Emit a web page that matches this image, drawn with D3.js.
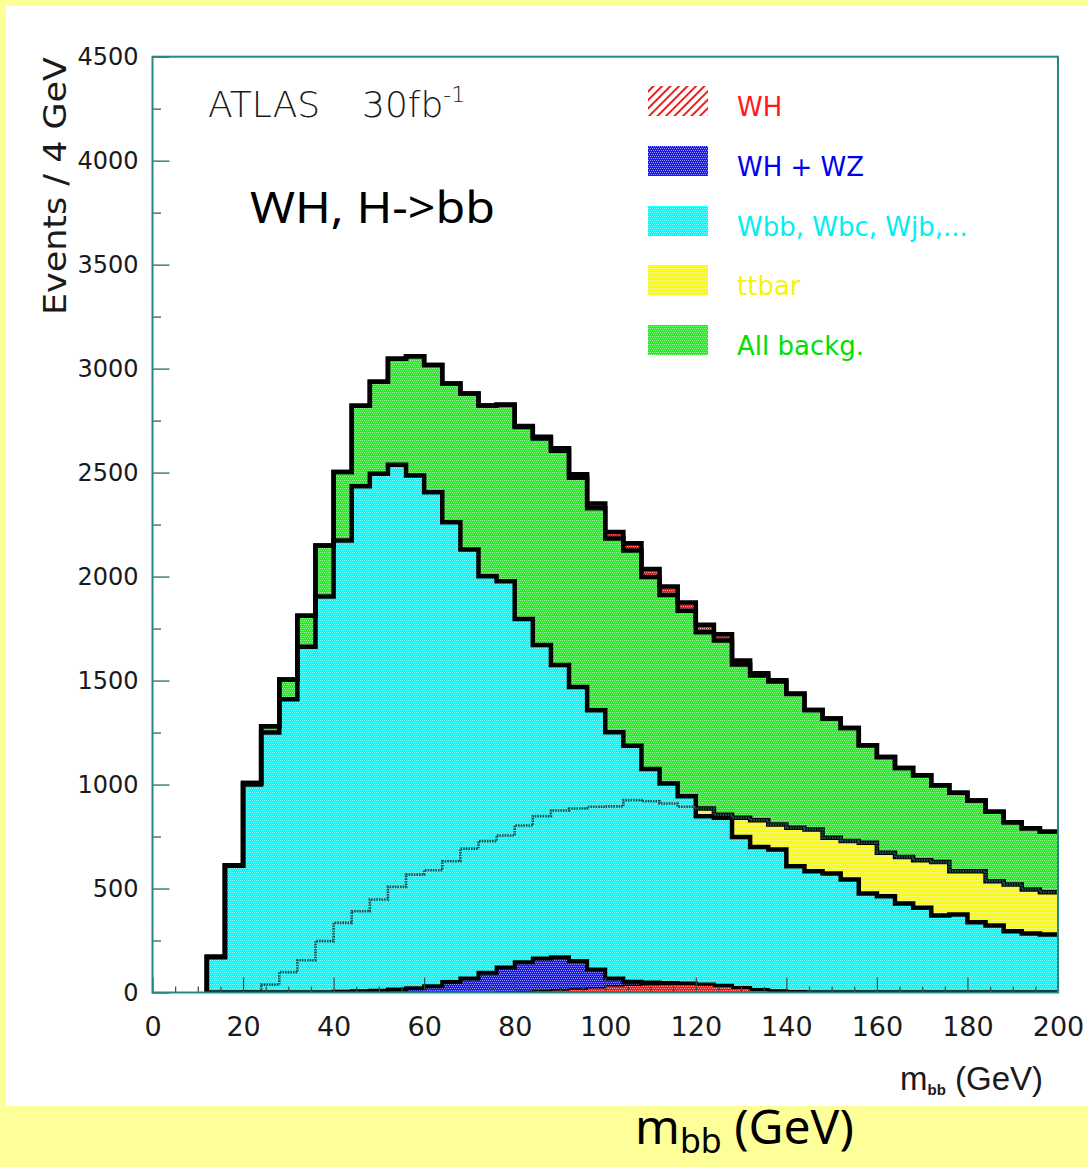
<!DOCTYPE html>
<html>
<head>
<meta charset="utf-8">
<script src="https://cdn.jsdelivr.net/npm/d3@7"></script>
<style>
  html, body { margin: 0; padding: 0; background: #ffff99; }
  svg { display: block; }
</style>
</head>
<body>
<svg id="chart" width="1088" height="1167"></svg>
<script>
// ---- data: m_bb spectrum, 4 GeV bins from 0 to 200 GeV ----
const binWidth = 4;
const binStarts = [0,4,8,12,16,20,24,28,32,36,40,44,48,52,56,60,64,68,72,76,
                   80,84,88,92,96,100,104,108,112,116,120,124,128,132,136,140,144,148,152,156,
                   160,164,168,172,176,180,184,188,192,196];

// all backgrounds together
const allBackground = [0,0,0,172,612,1008,1280,1505,1812,2150,
                       2503,2822,2937,3048,3060,3017,2929,2880,2823,2825,
                       2719,2664,2605,2475,2329,2183,2125,1998,1912,1836,
                       1732,1693,1577,1524,1496,1436,1359,1317,1272,1189,
                       1133,1080,1045,997,960,923,869,819,790,773];

// W + heavy flavour / mistagged jets
const wJets = [0,0,0,170,610,1000,1250,1410,1663,1904,
               2173,2434,2495,2538,2486,2405,2261,2130,2002,1978,
               1796,1671,1575,1469,1357,1251,1187,1075,1005,944,
               848,840,748,700,688,607,583,572,543,476,
               463,428,407,370,375,338,322,295,284,279];

// ttbar
const ttbar = [0,0,0,0,0,5,38,98,155,247,
               335,391,447,508,567,588,631,692,728,755,
               803,848,875,885,893,895,925,920,909,893,
               885,855,840,828,808,792,784,744,728,720,
               672,651,636,627,583,583,535,519,495,482];

// WH signal (m_H = 120 GeV)
const whSignal = [0,0,0,0,0,0,0,0,0,0,
                  0,0,0,0,0,0,0,0,0,3,
                  5,8,12,17,23,32,35,38,40,40,
                  36,30,20,11,5,2,0,0,0,0,
                  0,0,0,0,0,0,0,0,0,0];

// WH + WZ
const whPlusWz = [0,0,0,0,0,0,0,0,0,0,
                  4,6,9,14,20,30,50,67,95,120,
                  146,163,170,151,111,67,52,48,46,43,
                  39,32,22,12,6,2,0,0,0,0,
                  0,0,0,0,0,0,0,0,0,0];

const yMajorTicks = [0,500,1000,1500,2000,2500,3000,3500,4000,4500];
const yMinorTicks = [250,750,1250,1750,2250,2750,3250,3750,4250];
const xMajorTicks = [0,20,40,60,80,100,120,140,160,180,200];
const xMinorTicks = [5,10,15,25,30,35,45,50,55,65,70,75,85,90,95,105,110,115,
                     125,130,135,145,150,155,165,170,175,185,190,195];

const legendLabels = ["WH", "WH + WZ", "Wbb, Wbc, Wjb,...", "ttbar", "All backg."];
const legendColors = ["#ff1a1a", "#0000ee", "#00f0f0", "#f5f500", "#00e000"];

// fill colours of the histograms
const colGreen = "#22ec22", colCyan = "#00fafa", colYellow = "#fafa00",
      colBlue = "#1a1af0", colRed = "#f01a1a";

// ---- layout ----
const svg = d3.select("#chart");
const plot = { left: 152.5, right: 1058, top: 56.7, bottom: 992.5 };
const x = d3.scaleLinear().domain([0, 200]).range([plot.left, plot.right]);
const y = d3.scaleLinear().domain([0, 4500]).range([plot.bottom, plot.top]);

const defs = svg.append("defs");

// fine white dot grain laid over the solid fills
const grain = defs.append("pattern").attr("id", "grain")
  .attr("width", 4).attr("height", 4).attr("patternUnits", "userSpaceOnUse");
[[0, 0], [2, 0], [1, 2], [3, 2]].forEach(([px, py]) =>
  grain.append("rect").attr("x", px).attr("y", py).attr("width", 1).attr("height", 1)
    .attr("fill", "#ffffff").attr("fill-opacity", 0.55));

const hatch = defs.append("pattern").attr("id", "hatchRed")
  .attr("width", 6).attr("height", 6).attr("patternUnits", "userSpaceOnUse")
  .attr("patternTransform", "rotate(45)");
hatch.append("rect").attr("width", 6).attr("height", 6).attr("fill", "#ffffff");
hatch.append("line").attr("x1", 1).attr("y1", 0).attr("x2", 1).attr("y2", 6)
  .attr("stroke", "#e82020").attr("stroke-width", 2);

defs.append("clipPath").attr("id", "plotClip")
  .append("rect").attr("x", plot.left).attr("y", plot.top)
  .attr("width", plot.right - plot.left).attr("height", plot.bottom - plot.top);

// white pad
svg.append("rect").attr("x", 6).attr("y", 6).attr("width", 1082).attr("height", 1100).attr("fill", "#ffffff");

// ---- histogram helpers ----
function nonZeroRange(values) {
  let first = values.findIndex(v => v > 0);
  let last = values.length - 1;
  while (last > first && values[last] <= 0) last--;
  return [first, last];
}
// step outline as [edge, value] points, starting and (if inside the axis) ending on the baseline
function stepPoints(values) {
  const [first, last] = nonZeroRange(values);
  const pts = [[binStarts[first], 0]];
  for (let i = first; i <= last; i++) {
    pts.push([binStarts[i], values[i]]);
    pts.push([binStarts[i] + binWidth, values[i]]);
  }
  if (binStarts[last] + binWidth < 200) pts.push([binStarts[last] + binWidth, 0]);
  return pts;
}
const stepLine = d3.line().x(d => x(d[0])).y(d => y(d[1]));
const stepArea = d3.area().x(d => x(d[0])).y0(y(0)).y1(d => y(d[1]));

const g = svg.append("g").attr("clip-path", "url(#plotClip)");

function paintArea(d, color) {
  g.append("path").attr("d", d).attr("fill", color);
  g.append("path").attr("d", d).attr("fill", "url(#grain)");
}
function fillHist(values, color) {
  paintArea(stepArea(stepPoints(values)), color);
}
function outlineHist(values, width, color, dash) {
  const p = g.append("path").attr("d", stepLine(stepPoints(values)))
    .attr("fill", "none").attr("stroke", color || "#000")
    .attr("stroke-width", width).attr("stroke-linejoin", "miter");
  if (dash) p.attr("stroke-dasharray", dash);
}

// WH stacked on top of the total background
const totalWithSignal = allBackground.map((v, i) => v + whSignal[i]);
const bandPts = [];
{
  const [first, last] = nonZeroRange(whSignal);
  for (let i = first; i <= last; i++) {
    bandPts.push([binStarts[i], allBackground[i], totalWithSignal[i]]);
    bandPts.push([binStarts[i] + binWidth, allBackground[i], totalWithSignal[i]]);
  }
}

fillHist(allBackground, colGreen);
paintArea(d3.area().x(d => x(d[0])).y0(d => y(d[1])).y1(d => y(d[2]))(bandPts), colRed);

fillHist(ttbar, colYellow);
outlineHist(ttbar, 4.5);
fillHist(wJets, colCyan);
outlineHist(wJets, 4.5);
// ttbar seen through the W+jets fill
outlineHist(ttbar, 2.6, "#1c4f50", "1.6 1.0");

outlineHist(allBackground, 4.5);
outlineHist(totalWithSignal, 4.5);

// common baseline under the stacked histograms
g.append("line")
  .attr("x1", x(binStarts[nonZeroRange(wJets)[0]])).attr("x2", x(200))
  .attr("y1", y(0)).attr("y2", y(0))
  .attr("stroke", "#000").attr("stroke-width", 4.5);

// signal histograms at the bottom
fillHist(whPlusWz, colBlue);
outlineHist(whPlusWz, 4);
fillHist(whSignal, colRed);
outlineHist(whSignal, 1.5);

// ---- axes ----
const tickColor = "#3f7f80";
const yAxis = d3.axisLeft(y).tickValues(yMajorTicks).tickFormat(d3.format("d"))
  .tickSizeInner(-17).tickSizeOuter(0).tickPadding(14);
const yAx = svg.append("g").attr("transform", `translate(${plot.left},0)`).call(yAxis);
yAx.select(".domain").remove();
yAx.selectAll("line").attr("stroke", tickColor).attr("stroke-width", 1.5);
yAx.selectAll("text").attr("font-family", "DejaVu Sans").attr("font-size", 24).attr("fill", "#1a1a1a");

const yMinor = d3.axisLeft(y).tickValues(yMinorTicks).tickSizeInner(-8.5).tickSizeOuter(0).tickFormat("");
const yMi = svg.append("g").attr("transform", `translate(${plot.left},0)`).call(yMinor);
yMi.select(".domain").remove();
yMi.selectAll("line").attr("stroke", tickColor).attr("stroke-width", 1.5);

const xAxis = d3.axisBottom(x).tickValues(xMajorTicks).tickFormat(d3.format("d"))
  .tickSizeInner(-15).tickSizeOuter(0).tickPadding(24);
const xAx = svg.append("g").attr("transform", `translate(0,${plot.bottom})`).call(xAxis);
xAx.select(".domain").remove();
xAx.selectAll("line").attr("stroke", "#3a4a4a").attr("stroke-width", 1.2);
xAx.selectAll("text").attr("font-family", "DejaVu Sans").attr("font-size", 27).attr("fill", "#1a1a1a");

const xMinor = d3.axisBottom(x).tickValues(xMinorTicks).tickSizeInner(-6).tickSizeOuter(0).tickFormat("");
const xMi = svg.append("g").attr("transform", `translate(0,${plot.bottom})`).call(xMinor);
xMi.select(".domain").remove();
xMi.selectAll("line").attr("stroke", "#3a4a4a").attr("stroke-width", 1.2);

// frame
svg.append("rect").attr("x", plot.left).attr("y", plot.top)
  .attr("width", plot.right - plot.left).attr("height", plot.bottom - plot.top)
  .attr("fill", "none").attr("stroke", "#2a8686").attr("stroke-width", 2);

// ---- texts ----
svg.append("text")
  .attr("transform", "translate(66,186) rotate(-90)")
  .attr("text-anchor", "middle")
  .attr("font-family", "DejaVu Sans").attr("font-size", 32).attr("fill", "#1a1a1a")
  .attr("textLength", 258).attr("lengthAdjust", "spacingAndGlyphs")
  .text("Events / 4 GeV");

svg.append("text").attr("x", 208).attr("y", 117)
  .attr("font-family", "DejaVu Sans").attr("font-weight", 200).attr("font-size", 36).attr("fill", "#1a1a1a")
  .text("ATLAS");
const lumi = svg.append("text").attr("x", 362).attr("y", 117)
  .attr("font-family", "DejaVu Sans").attr("font-weight", 200).attr("font-size", 36).attr("fill", "#1a1a1a");
lumi.append("tspan").text("30fb");
lumi.append("tspan").attr("font-size", 22).attr("dy", -15).text("-1");

svg.append("text").attr("x", 250).attr("y", 223)
  .attr("font-family", "Noto Sans").attr("font-size", 44).attr("fill", "#000")
  .attr("textLength", 245).attr("lengthAdjust", "spacingAndGlyphs")
  .text("WH, H->bb");

// legend
const legend = svg.append("g");
const legendRowY = [86, 146, 206, 265, 325];
const legendSwatch = [null, colBlue, colCyan, colYellow, colGreen];
legendLabels.forEach((label, i) => {
  if (i === 0) {
    legend.append("rect").attr("x", 648).attr("y", legendRowY[i])
      .attr("width", 60).attr("height", 30).attr("fill", "url(#hatchRed)");
  } else {
    legend.append("rect").attr("x", 648).attr("y", legendRowY[i])
      .attr("width", 60).attr("height", 30).attr("fill", legendSwatch[i]);
    legend.append("rect").attr("x", 648).attr("y", legendRowY[i])
      .attr("width", 60).attr("height", 30).attr("fill", "url(#grain)");
  }
  legend.append("text").attr("x", 737).attr("y", legendRowY[i] + 30)
    .attr("font-family", "DejaVu Sans").attr("font-size", 26).attr("fill", legendColors[i])
    .text(label);
});

// x-axis title inside the pad
const xt = svg.append("text").attr("x", 900).attr("y", 1090)
  .attr("font-family", "Liberation Sans").attr("font-size", 33).attr("fill", "#1a1a1a");
xt.append("tspan").text("m");
xt.append("tspan").attr("font-size", 15).attr("font-weight", "bold").attr("dy", 5).text("bb");
xt.append("tspan").attr("dy", -5).text(" (GeV)");

// large caption in the yellow band
const cap = svg.append("text").attr("x", 635).attr("y", 1144)
  .attr("font-family", "Noto Sans").attr("fill", "#000");
cap.append("tspan").attr("font-size", 48).text("m");
cap.append("tspan").attr("font-size", 34).attr("dy", 9).text("bb");
cap.append("tspan").attr("font-size", 48).attr("dy", -9).text(" (GeV)");
</script>
</body>
</html>
